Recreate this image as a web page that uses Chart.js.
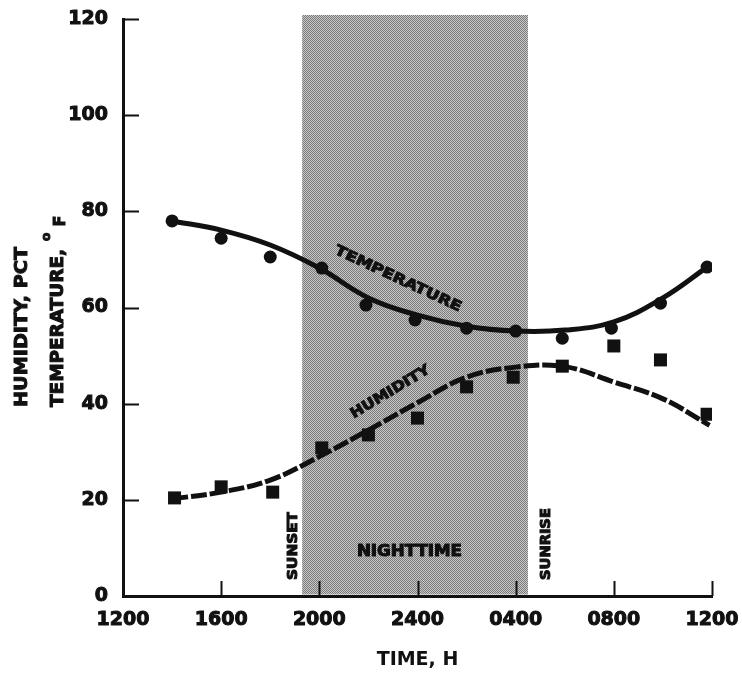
<!DOCTYPE html>
<html>
<head>
<meta charset="utf-8">
<script src="https://cdn.jsdelivr.net/npm/chart.js@4"></script>
<style>
  body { margin: 0; background: #fff; }
  #wrap { width: 742px; height: 673px; }
</style>
</head>
<body>
<div id="wrap"><canvas id="myChart"></canvas></div>
<script>
// hours after 1200 noon
const timeLabels = ["1200", "1600", "2000", "2400", "0400", "0800", "1200"];
const yTicks = [0, 20, 40, 60, 80, 100, 120];

const tempHours = [2, 4, 6, 8.1, 9.9, 11.9, 14, 16, 17.9, 19.9, 21.9, 23.8];
const tempValues = [78.0, 74.4, 70.5, 68.2, 60.5, 57.4, 55.7, 55.1, 53.6, 55.7, 60.9, 68.4];

const humHours = [2.1, 4, 6.1, 8.1, 10, 12, 14, 15.9, 17.9, 20, 21.9, 23.8];
const humValues = [20.4, 22.7, 21.6, 30.8, 33.5, 37.0, 43.5, 45.5, 47.8, 52.0, 49.1, 37.8];

// faired curves as drawn on the figure
const tempCurveHours = [2, 4, 6, 8, 10, 12, 14, 16, 18, 20, 22, 23.8];
const tempCurveValues = [78.0, 76.1, 73.0, 68.2, 62.0, 58.4, 56.1, 55.1, 55.3, 57.0, 62.0, 68.4];

const humCurveHours = [2, 4, 6, 8, 10, 12, 14, 16, 18, 20, 22, 23.9];
const humCurveValues = [20.2, 21.6, 24.1, 29.0, 34.5, 40.2, 45.5, 47.6, 47.7, 44.5, 41.0, 35.5];

const nightBand = [7.3, 16.5];

const FONT = "'DejaVu Sans', 'Liberation Sans', sans-serif";
const INK = "#111";

function pts(xs, ys) {
  return xs.map((x, i) => ({ x: x, y: ys[i] }));
}

function drawText(ctx, text, x, y, angle, size, width, align) {
  ctx.save();
  ctx.translate(x, y);
  ctx.rotate((angle * Math.PI) / 180);
  ctx.font = "bold " + size + "px " + FONT;
  const w = ctx.measureText(text).width;
  if (width) ctx.scale(width / w, 1);
  ctx.textAlign = align || "center";
  ctx.textBaseline = "middle";
  ctx.fillStyle = INK;
  ctx.strokeStyle = INK;
  ctx.lineWidth = 1;
  ctx.fillText(text, 0, 0);
  ctx.strokeText(text, 0, 0);
  ctx.restore();
}

function halftone() {
  const pc = document.createElement("canvas");
  pc.width = 2;
  pc.height = 2;
  const p = pc.getContext("2d");
  p.fillStyle = "#c6c6c6";
  p.fillRect(0, 0, 2, 2);
  p.fillStyle = "#7c7c7c";
  p.fillRect(0, 0, 1, 1);
  p.fillRect(1, 1, 1, 1);
  return pc;
}

const nightPlugin = {
  id: "night",
  beforeDatasetsDraw(chart) {
    const { ctx, chartArea, scales } = chart;
    const x0 = scales.x.getPixelForValue(nightBand[0]);
    const x1 = scales.x.getPixelForValue(nightBand[1]);
    ctx.save();
    ctx.fillStyle = ctx.createPattern(halftone(), "repeat");
    ctx.fillRect(x0, chartArea.top - 4, x1 - x0, chartArea.bottom - 1.5 - (chartArea.top - 4));
    ctx.restore();
  },
};

const decorPlugin = {
  id: "decor",
  afterDraw(chart) {
    const { ctx, chartArea, scales } = chart;
    const x = scales.x;
    const y = scales.y;

    // inward tick marks
    ctx.save();
    ctx.strokeStyle = INK;
    ctx.lineWidth = 2;
    ctx.beginPath();
    for (let i = 1; i < timeLabels.length; i++) {
      const px = Math.round(x.getPixelForValue(i * 4)) + 0.5;
      ctx.moveTo(px, chartArea.bottom);
      ctx.lineTo(px, chartArea.bottom - 15);
    }
    for (let i = 1; i < yTicks.length; i++) {
      const py = Math.round(y.getPixelForValue(yTicks[i])) + 0.5;
      ctx.moveTo(chartArea.left, py);
      ctx.lineTo(chartArea.left + 16, py);
    }
    ctx.stroke();
    ctx.restore();

    // labels on the plot
    drawText(ctx, "TEMPERATURE", x.getPixelForValue(11.2), y.getPixelForValue(65.9), 25, 14, 138);
    drawText(ctx, "HUMIDITY", x.getPixelForValue(10.9), y.getPixelForValue(42.4), -31, 14, 90);
    drawText(ctx, "SUNSET", x.getPixelForValue(6.94), y.getPixelForValue(10.4), -90, 14, 68);
    drawText(ctx, "SUNRISE", x.getPixelForValue(17.27), y.getPixelForValue(10.8), -90, 14, 72);
    drawText(ctx, "NIGHTTIME", x.getPixelForValue(11.67), y.getPixelForValue(9.1), 0, 15, 105);

    // y axis title, two lines
    const base = chartArea.bottom - 189;
    drawText(ctx, "HUMIDITY, PCT", chartArea.left - 101, base, -90, 18, 160, "left");
    drawText(ctx, "TEMPERATURE,", chartArea.left - 65, base, -90, 18, 158, "left");
    drawText(ctx, "o", chartArea.left - 76, base - 170, -90, 12, 0, "center");
    drawText(ctx, "F", chartArea.left - 62, base - 186, -90, 16, 0, "center");
  },
};

const ctx = document.getElementById("myChart").getContext("2d");

new Chart(ctx, {
  type: "scatter",
  data: {
    datasets: [
      {
        label: "Temperature",
        data: pts(tempHours, tempValues),
        pointStyle: "circle",
        pointRadius: 6.5,
        backgroundColor: INK,
        borderColor: INK,
        borderWidth: 0,
      },
      {
        label: "Humidity",
        data: pts(humHours, humValues),
        pointStyle: "rect",
        pointRadius: 9.2,
        backgroundColor: INK,
        borderColor: INK,
        borderWidth: 0,
      },
      {
        label: "Temperature curve",
        data: pts(tempCurveHours, tempCurveValues),
        showLine: true,
        pointRadius: 0,
        borderColor: INK,
        borderWidth: 5,
        tension: 0.4,
      },
      {
        label: "Humidity curve",
        data: pts(humCurveHours, humCurveValues),
        showLine: true,
        pointRadius: 0,
        borderColor: INK,
        borderWidth: 5,
        borderDash: [16, 3],
        tension: 0.4,
      },
    ],
  },
  options: {
    responsive: true,
    maintainAspectRatio: false,
    animation: false,
    layout: { padding: { top: 19, right: 30, left: 0, bottom: 0 } },
    plugins: {
      legend: { display: false },
      tooltip: { enabled: false },
    },
    scales: {
      x: {
        type: "linear",
        min: 0,
        max: 24,
        afterFit: (scale) => {
          scale.height = 77;
          scale.paddingLeft = 0;
          scale.paddingRight = 0;
        },
        grid: { display: false, drawTicks: false },
        border: { display: true, color: INK, width: 3 },
        ticks: {
          stepSize: 4,
          autoSkip: false,
          maxRotation: 0,
          padding: 13,
          color: INK,
          textStrokeColor: INK,
          textStrokeWidth: 1,
          font: { family: FONT, size: 19, weight: "bold" },
          callback: (value) => timeLabels[value / 4],
        },
        title: {
          display: true,
          text: "TIME, H",
          color: INK,
          font: { family: FONT, size: 19, weight: "bold" },
          padding: { top: 0, bottom: 2 },
        },
      },
      y: {
        min: 0,
        max: 120,
        afterFit: (scale) => {
          scale.width = 123;
          scale.paddingTop = 0;
          scale.paddingBottom = 0;
        },
        grid: { display: false, drawTicks: false },
        border: { display: true, color: INK, width: 3 },
        ticks: {
          stepSize: 20,
          padding: 15,
          color: INK,
          textStrokeColor: INK,
          textStrokeWidth: 1,
          font: { family: FONT, size: 19, weight: "bold" },
        },
      },
    },
  },
  plugins: [nightPlugin, decorPlugin],
});
</script>
</body>
</html>
